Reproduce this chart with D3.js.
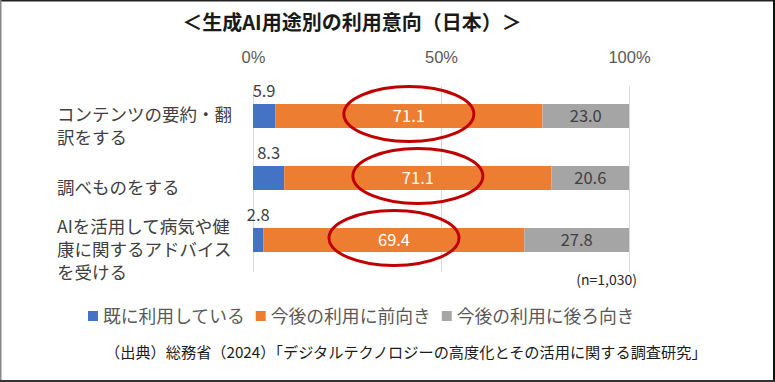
<!DOCTYPE html>
<html>
<head>
<meta charset="utf-8">
<script src="https://cdn.jsdelivr.net/npm/d3@7"></script>
<style>
  body { margin: 0; background: #fff; }
  svg { display: block; font-family: "Noto Sans CJK JP", "Noto Sans", sans-serif; }
  .axis text { fill: #595959; font-size: 16.5px; }
  .grid line { stroke: #d9d9d9; }
</style>
</head>
<body>
<div id="chart"></div>
<script>
// chart data
var categories = ["コンテンツの要約・翻\n訳をする", "調べものをする", "AIを活用して病気や健\n康に関するアドバイス\nを受ける"];
var seriesNames = ["既に利用している", "今後の利用に前向き", "今後の利用に後ろ向き"];
var already = [5.9, 8.3, 2.8];
var positive = [71.1, 71.1, 69.4];
var negative = [23.0, 20.6, 27.8];
var xTicks = [0, 50, 100];
var colors = ["#4472C4", "#ED7D31", "#A5A5A5"];
var circled = [0, 1, 2];   // rows whose "前向き" label is circled

var width = 775, height = 382;
var margin = {top: 85, left: 253, right: 146, bottom: 111};

var svg = d3.select("#chart").append("svg")
    .attr("width", width)
    .attr("height", height);

// frame edges of the screenshot
svg.append("rect").attr("x", 0).attr("y", 0).attr("width", width).attr("height", 1.5).attr("fill", "#222");
svg.append("rect").attr("x", 0).attr("y", 0).attr("width", 1.5).attr("height", height).attr("fill", "#888");
svg.append("rect").attr("x", width - 2).attr("y", 0).attr("width", 2).attr("height", height).attr("fill", "#111");
svg.append("rect").attr("x", 0).attr("y", height - 2).attr("width", width).attr("height", 2).attr("fill", "#333");

// title
svg.append("text")
    .attr("x", 352).attr("y", 30)
    .attr("text-anchor", "middle")
    .style("font-size", "20px").style("font-weight", "bold")
    .style("fill", "#1a1a1a")
    .text("＜生成AI用途別の利用意向（日本）＞");

var rows = categories.map(function(c, i) {
    return {cat: c, already: already[i], positive: positive[i], negative: negative[i]};
});

var x = d3.scaleLinear().domain([0, 100]).range([margin.left, width - margin.right]);
var y = d3.scaleBand().domain(categories)
    .range([margin.top, height - margin.bottom])
    .paddingInner(0.613).paddingOuter(0.3065);

// gridlines
svg.append("g")
    .attr("class", "grid")
    .attr("transform", "translate(0," + (margin.top + 1) + ")")
    .call(d3.axisBottom(x).tickValues(xTicks).tickSize(height - margin.bottom - margin.top).tickFormat(""))
    .call(function(g) { g.select(".domain").remove(); });

// top axis labels
svg.append("g")
    .attr("class", "axis")
    .attr("transform", "translate(0,51)")
    .call(d3.axisTop(x).tickValues(xTicks).tickSize(0).tickFormat(function(d) { return d + "%"; }))
    .call(function(g) { g.select(".domain").remove(); })
    .selectAll("text").attr("dy", "0.9em");

var keys = ["already", "positive", "negative"];
var stacked = d3.stack().keys(keys)(rows);

var layer = svg.append("g").selectAll("g")
    .data(stacked)
    .enter().append("g")
    .attr("fill", function(d, i) { return colors[i]; });

layer.selectAll("rect")
    .data(function(d) { return d; })
    .enter().append("rect")
    .attr("x", function(d) { return x(d[0]); })
    .attr("width", function(d) { return x(d[1]) - x(d[0]); })
    .attr("y", function(d) { return y(d.data.cat); })
    .attr("height", y.bandwidth());

// value labels
stacked.forEach(function(s, si) {
    svg.append("g").selectAll("text")
        .data(s)
        .enter().append("text")
        .attr("x", function(d) { return x((d[0] + d[1]) / 2); })
        .attr("y", function(d) {
            var yc = y(d.data.cat) + y.bandwidth() / 2;
            return si === 0 ? y(d.data.cat) - 7 : yc + 6;
        })
        .attr("text-anchor", "middle")
        .style("font-size", "16.5px")
        .style("fill", si === 1 ? "#ffffff" : "#404040")
        .text(function(d) { return (d[1] - d[0]).toFixed(1); });
});

// red ellipses around the "前向き" labels
svg.append("g").selectAll("ellipse")
    .data(circled)
    .enter().append("ellipse")
    .attr("cx", function(i) { var d = stacked[1][i]; return x((d[0] + d[1]) / 2); })
    .attr("cy", function(i) { return y(categories[i]) + y.bandwidth() / 2 - 2; })
    .attr("rx", 65)
    .attr("ry", 27.5)
    .attr("fill", "none")
    .attr("stroke", "#C00000")
    .attr("stroke-width", 3);

// category labels (left aligned, multi-line)
var lineH = 23;
svg.append("g").selectAll("text")
    .data(categories)
    .enter().append("text")
    .attr("x", 57)
    .style("font-size", "17.5px")
    .style("fill", "#404040")
    .each(function(c) {
        var lines = c.split("\n");
        var yc = y(c) + y.bandwidth() / 2 + 10;
        var y0 = yc - (lines.length - 1) * lineH / 2;
        var t = d3.select(this);
        lines.forEach(function(l, k) {
            t.append("tspan").attr("x", 57).attr("y", y0 + k * lineH + 6).text(l);
        });
    });

// sample size note
svg.append("text")
    .attr("x", 637).attr("y", 285)
    .attr("text-anchor", "end")
    .style("font-size", "14px").style("fill", "#262626")
    .text("(n=1,030)");

// legend
var legend = svg.append("g");
var lx = 88;
seriesNames.forEach(function(name, i) {
    legend.append("rect")
        .attr("x", lx).attr("y", 311)
        .attr("width", 10).attr("height", 10)
        .attr("fill", colors[i]);
    var t = legend.append("text")
        .attr("x", lx + 15).attr("y", 322.5)
        .style("font-size", "17.8px").style("fill", "#595959")
        .text(name);
    lx += 15 + t.node().getComputedTextLength() + 11;
});

// source
svg.append("text")
    .attr("x", 105).attr("y", 358)
    .style("font-size", "15.2px").style("fill", "#1a1a1a")
    .text("（出典）総務省（2024）「デジタルテクノロジーの高度化とその活用に関する調査研究」");
</script>
</body>
</html>
